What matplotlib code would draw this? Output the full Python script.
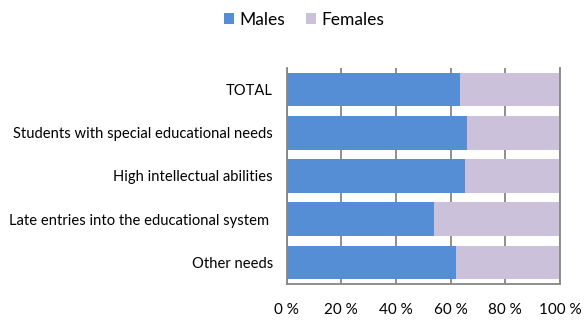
import matplotlib
matplotlib.use("Agg")
import matplotlib.pyplot as plt
from matplotlib.ticker import FuncFormatter

plt.rcParams['font.family'] = ['Lato', 'DejaVu Sans']

categories = [
    "TOTAL",
    "Students with special educational needs",
    "High intellectual abilities",
    "Late entries into the educational system ",
    "Other needs",
]
males = [63.4, 66.0, 65.2, 54.1, 61.9]
females = [100 - m for m in males]

male_color = "#558ED5"
female_color = "#CCC1DA"
grid_color = "#868686"

fig = plt.figure(figsize=(5.85, 3.2), dpi=100)
ax = fig.add_axes([0.490, 0.1125, 0.467, 0.675])

y = list(range(len(categories)))
ax.barh(y, males, height=0.78, color=male_color, label="Males", zorder=2)
ax.barh(y, females, left=males, height=0.78, color=female_color, label="Females", zorder=2)

ax.set_xlim(0, 100)
ax.set_ylim(len(categories) - 0.5, -0.5)
ax.set_yticks(y)
ax.set_yticklabels(categories, fontsize=10.6)
ax.set_xticks([0, 20, 40, 60, 80, 100])
ax.xaxis.set_major_formatter(FuncFormatter(lambda v, p: f"{int(v)} %"))
ax.tick_params(axis='x', labelsize=11, length=0, pad=14)
ax.tick_params(axis='y', length=0, pad=10)

ax.grid(axis='x', color=grid_color, linewidth=1.3, zorder=1)
ax.spines['top'].set_visible(False)
for s in ['left', 'right', 'bottom']:
    ax.spines[s].set_color(grid_color)
    ax.spines[s].set_linewidth(1.3)

fig.legend(loc='upper center', bbox_to_anchor=(0.52, 1.012), ncol=2, frameon=False,
           fontsize=12.5, handlelength=0.6, handleheight=0.6, handletextpad=0.3,
           columnspacing=1.2)

fig.savefig("out.png", dpi=100)
